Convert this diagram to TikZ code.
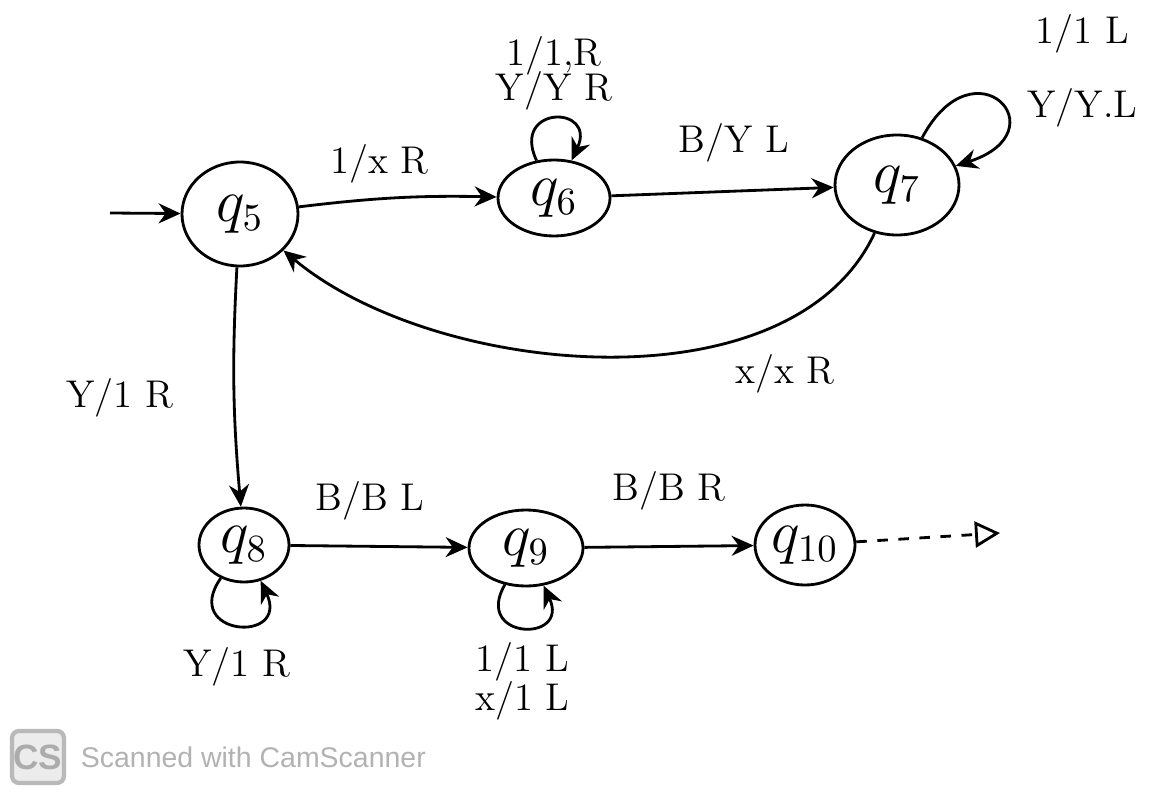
\documentclass[tikz,border=0pt]{standalone}
\usepackage{fontspec}
\newfontfamily\wmfont{Liberation Sans}
\usepackage{tikz}
\usetikzlibrary{arrows.meta,positioning,shapes.geometric}
\tikzset{
  tmstate/.style={draw, ellipse, thick, inner sep=0pt,
    font=\fontsize{16}{18}\selectfont},
  %% Transitions
  tmmove/.style={->, >={Stealth[length=2.2mm,width=2mm]}, thick},
  tmexit/.style={->, >={Triangle[open,length=2.5mm,width=2.6mm]}, thick, dashed},
  %% Transition labels
  tmlbl/.style={font=\fontsize{11}{12}\selectfont, align=center, inner sep=1pt},
  %% Scanner watermark
  wmlogo/.style={draw=gray!55, fill=gray!15, rounded corners=2pt, line width=1.2pt,
    inner sep=0pt, minimum width=0.52cm, minimum height=0.52cm, text=gray!65,
    font=\wmfont\bfseries\fontsize{10}{11}\selectfont},
}

\begin{document}
\begin{tikzpicture}[x=1cm, y=1cm]
\useasboundingbox (0,0) rectangle (11.52,-7.97);

%% States
\node[tmstate, minimum width=1.16cm, minimum height=1.04cm] (q5)  at (2.40,-2.14) {$q_5$};
\node[tmstate, minimum width=1.12cm, minimum height=0.76cm] (q6)  at (5.54,-1.98) {$q_6$};
\node[tmstate, minimum width=1.24cm, minimum height=1.00cm] (q7)  at (8.97,-1.85) {$q_7$};
\node[tmstate, minimum width=0.90cm, minimum height=0.74cm] (q8)  at (2.44,-5.45) {$q_8$};
\node[tmstate, minimum width=1.14cm, minimum height=0.76cm] (q9)  at (5.26,-5.48) {$q_9$};
\node[tmstate, minimum width=1.00cm, minimum height=0.80cm] (q10) at (8.05,-5.45) {$q_{10}$};

\coordinate (start) at (1.10,-2.13);
\coordinate (q10out) at (10.00,-5.33);

%% Moves
\draw[tmmove] (start) -- (q5);
\draw[tmmove] (q5) to[bend left=4] node[tmlbl, pos=0.4, above=3pt] {1/x R} (q6);
\draw[tmmove] (q6) -- node[tmlbl, pos=0.55, above=7pt] {B/Y L} (q7);
\draw[tmmove] (q7) to[out=-115, in=-40, looseness=0.85]
  node[tmlbl, pos=0.22, below=8pt] {x/x R} (q5);
\draw[tmmove] (q5) to[bend right=4] node[tmlbl, left=16pt, pos=0.55] {Y/1 R} (q8);
\draw[tmmove] (q8) -- node[tmlbl, pos=0.45, above=6pt] {B/B L} (q9);
\draw[tmmove] (q9) -- node[tmlbl, pos=0.5, above=9pt] {B/B R} (q10);
\draw[tmexit] (q10) -- (q10out);

%% Loops
\draw[tmmove] (q6) to[out=115, in=65, looseness=4.5]
  node[tmlbl, above=1pt] {1/1,R\\[-2pt]Y/Y R} (q6);
\draw[tmmove] (q7) to[out=62, in=18, looseness=6.5]
  node[tmlbl, right=0pt, pos=0.6, yshift=12pt, xshift=5pt] {1/1 L\\[9pt]Y/Y.L} (q7);
\draw[tmmove] (q8) to[out=-125, in=-65, looseness=4.5]
  node[tmlbl, below=5pt] {Y/1 R} (q8);
\draw[tmmove] (q9) to[out=-120, in=-65, looseness=4.2]
  node[tmlbl, below=3pt] {1/1 L\\[-1pt]x/1 L} (q9);

%% Watermark
\node[wmlogo] (cs) at (0.38,-7.57) {CS};
\node[right=4pt of cs, inner sep=0pt, text=gray!60, font=\wmfont\fontsize{8.1}{10}\selectfont] (wm) {Scanned with CamScanner};
\end{tikzpicture}
\end{document}
